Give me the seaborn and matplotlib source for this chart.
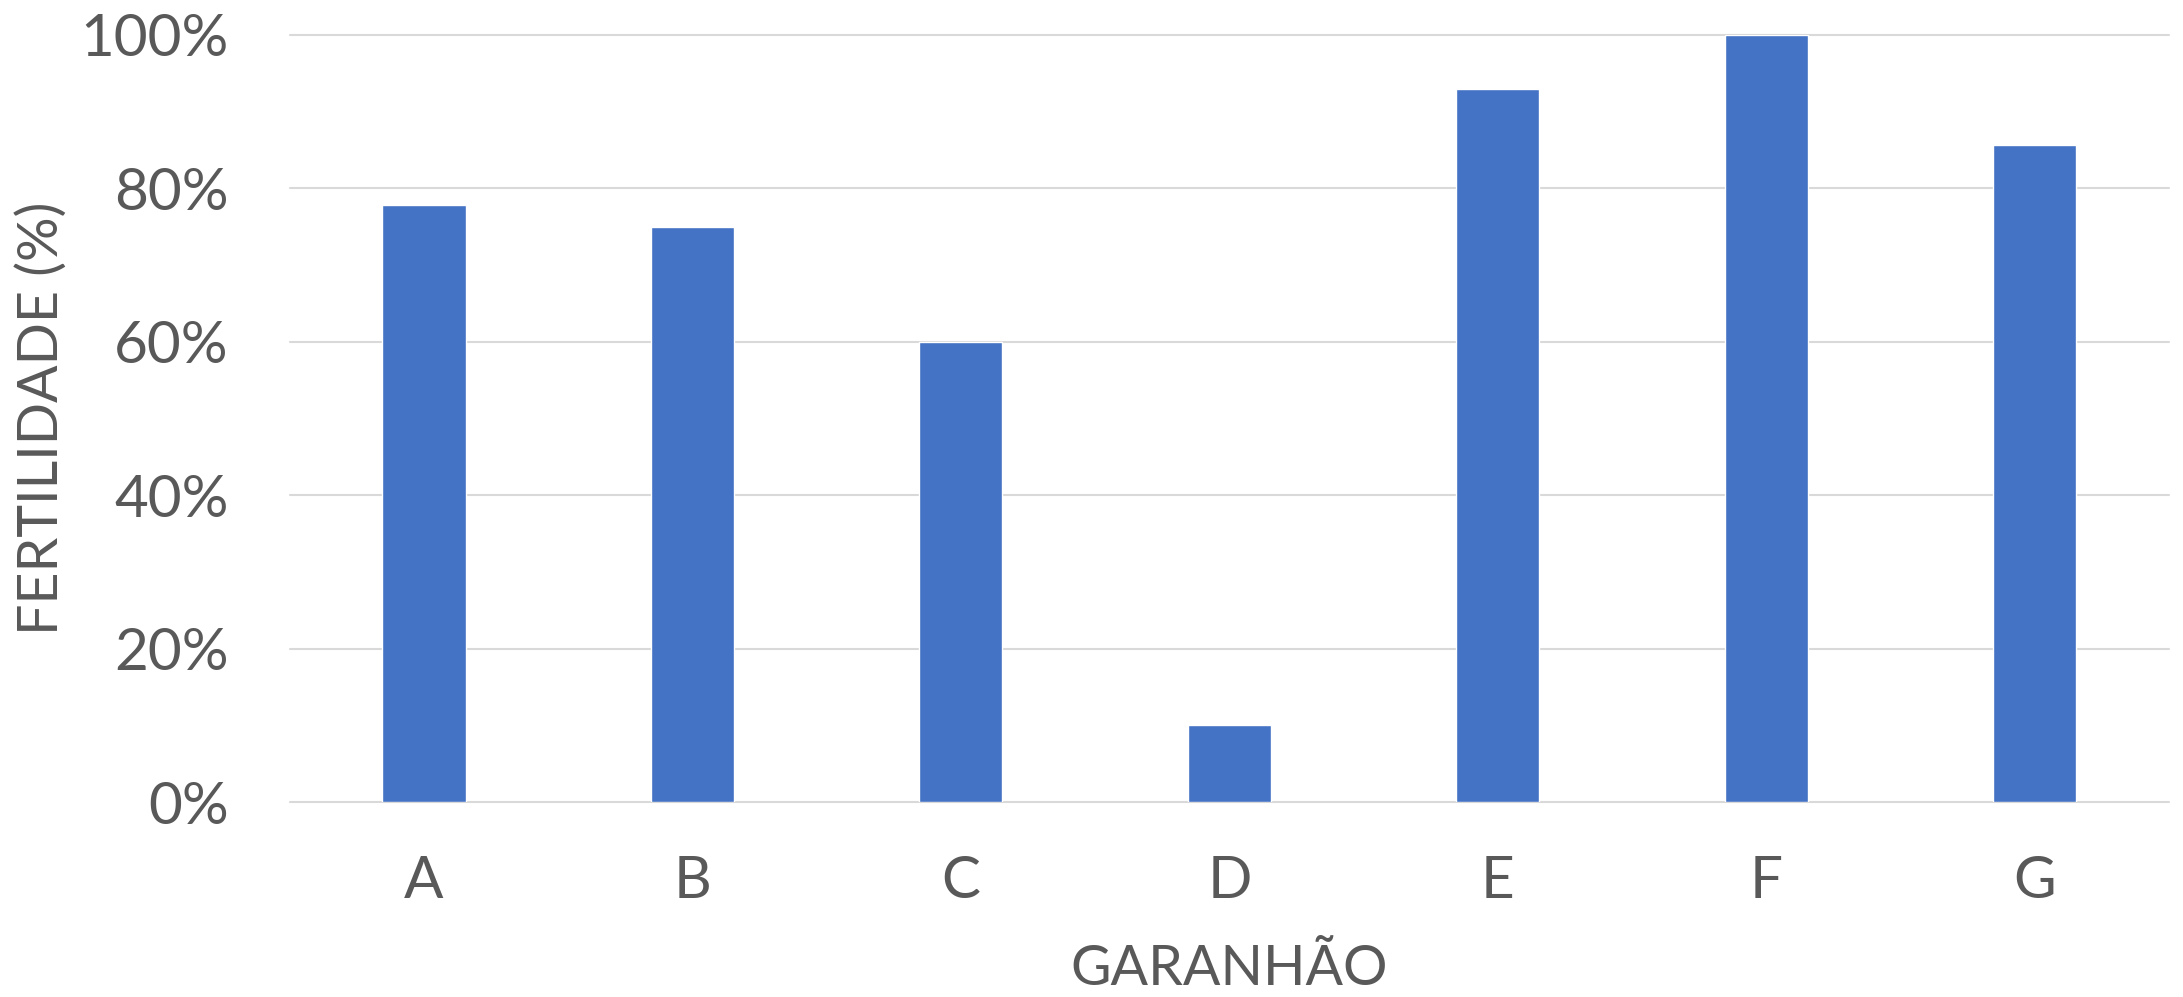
import matplotlib
matplotlib.use("Agg")
import matplotlib.pyplot as plt
import seaborn as sns
import pandas as pd
from matplotlib.ticker import PercentFormatter

# Fertility rate per stallion
garanhoes = ["A", "B", "C", "D", "E", "F", "G"]
fertilidade = [0.778, 0.75, 0.60, 0.10, 0.929, 1.00, 0.857]
yticks = [0.0, 0.2, 0.4, 0.6, 0.8, 1.0]

df = pd.DataFrame({"garanhao": garanhoes, "fertilidade": fertilidade})

sns.set_theme(style="white")
plt.rcParams["font.family"] = ["Lato", "DejaVu Sans"]

text_color = "#595959"
grid_color = "#d9d9d9"
bar_color = "#4472C4"
fs = 42
fs_title = 40

fig = plt.figure(figsize=(21.83, 9.97), dpi=100)
ax = fig.add_axes([0.1327, 0.1955, 0.8609, 0.7696])

sns.barplot(data=df, x="garanhao", y="fertilidade", color=bar_color,
            width=0.31, saturation=1, ax=ax, zorder=3)

ax.set_ylim(0, 1.0)
ax.set_xlim(-0.5, len(garanhoes) - 0.5)
ax.set_yticks(yticks)
ax.yaxis.set_major_formatter(PercentFormatter(1.0, decimals=0))

ax.grid(axis="y", color=grid_color, linewidth=1.5, zorder=0)
ax.grid(axis="x", visible=False)
for gl in ax.get_ygridlines():
    gl.set_clip_on(False)

for s in ax.spines.values():
    s.set_visible(False)

ax.tick_params(axis="y", length=0, pad=44, labelsize=fs, labelcolor=text_color)
ax.tick_params(axis="x", length=0, pad=38, labelsize=fs, labelcolor=text_color)

ax.set_xlabel("GARANHÃO", fontsize=fs_title, color=text_color)
ax.set_ylabel("FERTILIDADE (%)", fontsize=fs_title, color=text_color)
ax.xaxis.set_label_coords(0.5, -0.185)
ax.yaxis.set_label_coords(-0.118, 0.5)

fig.savefig("out.png", dpi=100, facecolor="white")
